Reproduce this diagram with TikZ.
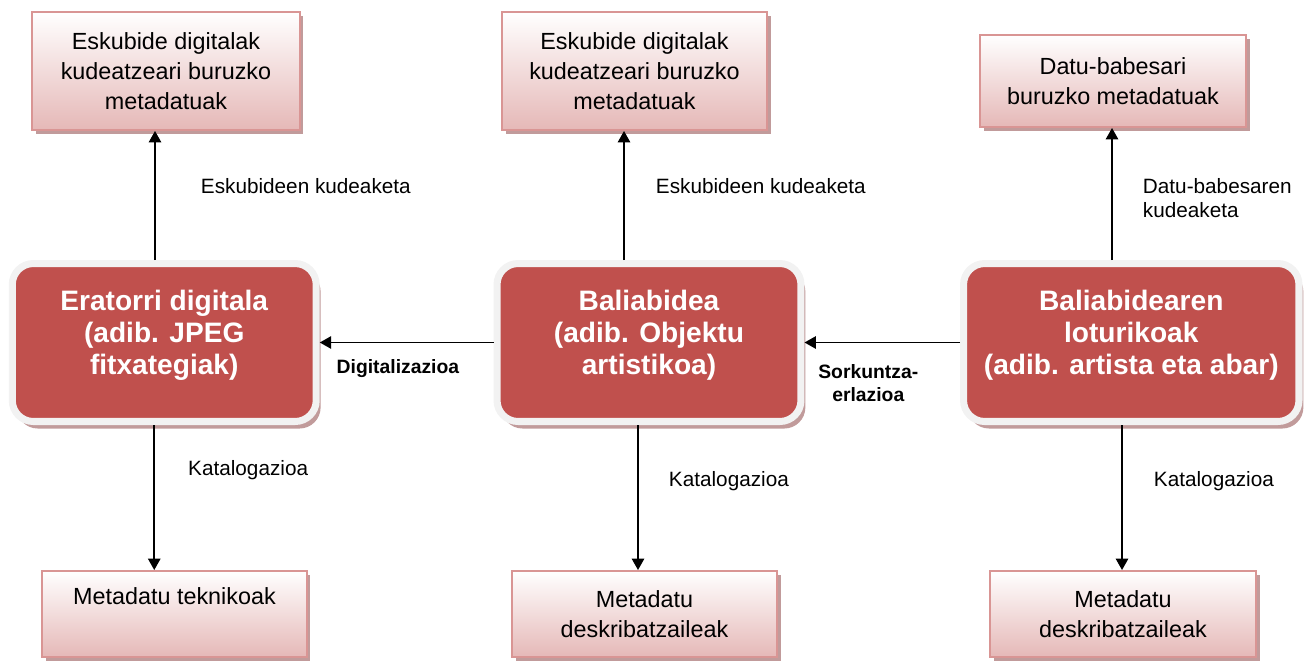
\documentclass[tikz,border=0pt]{standalone}
\usepackage{fontspec}
\setmainfont{Liberation Sans}
\usepackage{tikz}
\usetikzlibrary{arrows.meta, positioning, shadows}
\definecolor{mainred}{RGB}{192,80,77}
\definecolor{rimgray}{RGB}{242,242,242}
\definecolor{boxpink}{RGB}{229,184,183}
\definecolor{edgepink}{RGB}{217,149,148}
\definecolor{shadowred}{RGB}{178,130,130}

\begin{document}
\begin{tikzpicture}[
    x=0.02cm, y=-0.02cm,
    meta/.style={rectangle, draw=edgepink, line width=1.1pt, top color=white, bottom color=boxpink, minimum width=5.3cm, minimum height=2.36cm, align=center, font=\fontsize{13.3}{17}\selectfont, drop shadow={shadow xshift=2pt, shadow yshift=-2.2pt, fill=shadowred, opacity=0.8}},
    resource/.style={rectangle, rounded corners=12pt, draw=rimgray, line width=4pt, fill=mainred, text=white, minimum width=6.08cm, minimum height=3.16cm, align=center, font=\bfseries\fontsize{16}{18.2}\selectfont, text depth=12pt, drop shadow={shadow xshift=2.5pt, shadow yshift=-4pt, fill=shadowred, opacity=0.8}},
    lbl/.style={font=\fontsize{11.8}{13.7}\selectfont, align=left, inner sep=0pt},
    blbl/.style={font=\bfseries\fontsize{11}{13}\selectfont, align=center, inner sep=0pt},
    arrow/.style={-{Triangle[width=7pt,length=6.5pt]}, line width=1.1pt}
]
    \useasboundingbox (0,0) rectangle (1310,660);

    % Main nodes
    \node[resource] (derived) at (164.25,342.5) {Eratorri digitala\\(adib. JPEG\\fitxategiak)};
    \node[resource] (resrc) at (649,342.5) {Baliabidea\\(adib. Objektu\\artistikoa)};
    \node[resource, minimum width=6.71cm] (related) at (1131.25,342.5) {Baliabidearen\\loturikoak\\(adib. artista eta abar)};

    % Metadata boxes
    \node[meta, minimum width=5.36cm] (rightsL) at (166,71) {Eskubide digitalak\\kudeatzeari buruzko\\metadatuak};
    \node[meta] (rightsM) at (634.5,71) {Eskubide digitalak\\kudeatzeari buruzko\\metadatuak};
    \node[meta, minimum width=5.32cm, minimum height=1.84cm] (privacy) at (1113,81) {Datu-babesari\\buruzko metadatuak};
    \node[meta, minimum height=1.72cm, text depth=20pt] (technical) at (174.5,614) {Metadatu teknikoak};
    \node[meta, minimum height=1.72cm] (descrM) at (644.5,614) {Metadatu\\deskribatzaileak};
    \node[meta, minimum width=5.32cm, minimum height=1.72cm] (descrR) at (1123,614) {Metadatu\\deskribatzaileak};

    % Arrows up
    \draw[arrow] ([xshift=-0.185cm]derived.north) -- node[lbl, pos=0.57, right=0.9cm] (rlblL) {Eskubideen kudeaketa} ([xshift=-0.185cm]derived.north |- rightsL.south);
    \draw[arrow] ([xshift=-0.5cm]resrc.north) -- node[lbl, pos=0.57, right=0.62cm] (rlblM) {Eskubideen kudeaketa} ([xshift=-0.5cm]resrc.north |- rightsM.south);
    \draw[arrow] ([xshift=-0.385cm]related.north) -- node[lbl, pos=0.47, right=0.6cm] (plbl) {Datu-babesaren\\kudeaketa} ([xshift=-0.385cm]related.north |- privacy.south);

    % Arrows down
    \draw[arrow] ([xshift=-0.2cm]derived.south) -- node[lbl, pos=0.31, right=0.66cm] (clblL) {Katalogazioa} ([xshift=-0.2cm]derived.south |- technical.north);
    \draw[arrow] ([xshift=-0.22cm]resrc.south) -- node[lbl, pos=0.385, right=0.6cm] (clblM) {Katalogazioa} ([xshift=-0.22cm]resrc.south |- descrM.north);
    \draw[arrow] ([xshift=-0.185cm]related.south) -- node[lbl, pos=0.385, right=0.62cm] (clblR) {Katalogazioa} ([xshift=-0.185cm]related.south |- descrR.north);

    % Arrows across
    \draw[arrow] (resrc.west) -- node[blbl, pos=0.55, below=0.32cm] (dlbl) {Digitalizazioa} (derived.east);
    \draw[arrow] (related.west) -- node[blbl, pos=0.59, below=0.42cm] (slbl) {Sorkuntza-\\erlazioa} (resrc.east);
\end{tikzpicture}
\end{document}
